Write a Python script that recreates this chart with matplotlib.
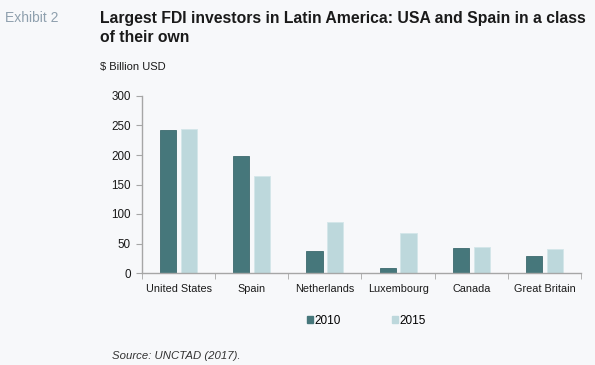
import numpy as np
from matplotlib import pyplot as plt
from matplotlib.patches import Patch

plt.rcParams['font.family'] = ['Liberation Sans', 'DejaVu Sans']

countries = ['United States', 'Spain', 'Netherlands', 'Luxembourg', 'Canada', 'Great Britain']
fdi_2010 = [242, 198, 37, 9, 42, 29]
fdi_2015 = [244, 165, 86, 68, 44, 41]
years = ['2010', '2015']
yticks = [0, 50, 100, 150, 200, 250, 300]

bg = '#f7f8fa'
dark = '#46777b'
light = '#bdd8dc'
axis_col = '#a6a6a6'


def plot_chart():
    fig = plt.figure(figsize=(5.95, 3.65), dpi=100, facecolor=bg)
    ax = fig.add_axes([142 / 595, 1 - 273 / 365, 439 / 595, 177 / 365])
    ax.set_facecolor(bg)

    x = np.arange(len(countries))
    w = 0.22
    off = 0.142
    ax.bar(x - off, fdi_2010, w, color=dark, edgecolor='#3c6a6e', linewidth=0.6)
    ax.bar(x + off, fdi_2015, w, color=light, edgecolor='#d4e6e9', linewidth=0.6)

    ax.set_xlim(-0.5, len(countries) - 0.5)
    ax.set_ylim(0, 300)
    ax.set_yticks(yticks)
    ax.set_xticks(x)
    ax.set_xticklabels(countries)
    ax.set_xticks(np.arange(len(countries) + 1) - 0.5, minor=True)
    ax.tick_params(axis='x', which='major', length=0, pad=8, labelsize=7.8, labelcolor='#1a1a1a')
    ax.tick_params(axis='x', which='minor', length=4, color=axis_col, direction='out')
    ax.tick_params(axis='y', length=4, color=axis_col, pad=4, labelsize=8.4, labelcolor='#1a1a1a')
    for s in ['top', 'right']:
        ax.spines[s].set_visible(False)
    for s in ['left', 'bottom']:
        ax.spines[s].set_color(axis_col)
        ax.spines[s].set_linewidth(1.0)

    handles = [Patch(color=dark), Patch(color=light)]
    fig.legend(handles, years, loc='center left', bbox_to_anchor=(307 / 595, 1 - 321 / 365),
               ncol=2, frameon=False, borderpad=0, borderaxespad=0,
               handlelength=0.55, handleheight=0.55, handletextpad=0.1,
               columnspacing=4.3, fontsize=8.5)

    fig.text(5 / 595, 1 - 18 / 365, 'Exhibit 2', fontsize=10, color='#8fa0ae', va='center')
    fig.text(100 / 595, 1 - 18 / 365, 'Largest FDI investors in Latin America: USA and Spain in a class',
             fontsize=11.3, fontweight='bold', color='#1a1a1a', va='center')
    fig.text(100 / 595, 1 - 37 / 365, 'of their own', fontsize=11.3, fontweight='bold',
             color='#1a1a1a', va='center')
    fig.text(100 / 595, 1 - 67 / 365, '$ Billion USD', fontsize=8, color='#1a1a1a', va='center')
    fig.text(112 / 595, 1 - 356 / 365, 'Source: UNCTAD (2017).', fontsize=8.2, style='italic',
             color='#333333', va='center')

    fig.savefig('out.png', dpi=100, facecolor=bg)


if __name__ == '__main__':
    plot_chart()
